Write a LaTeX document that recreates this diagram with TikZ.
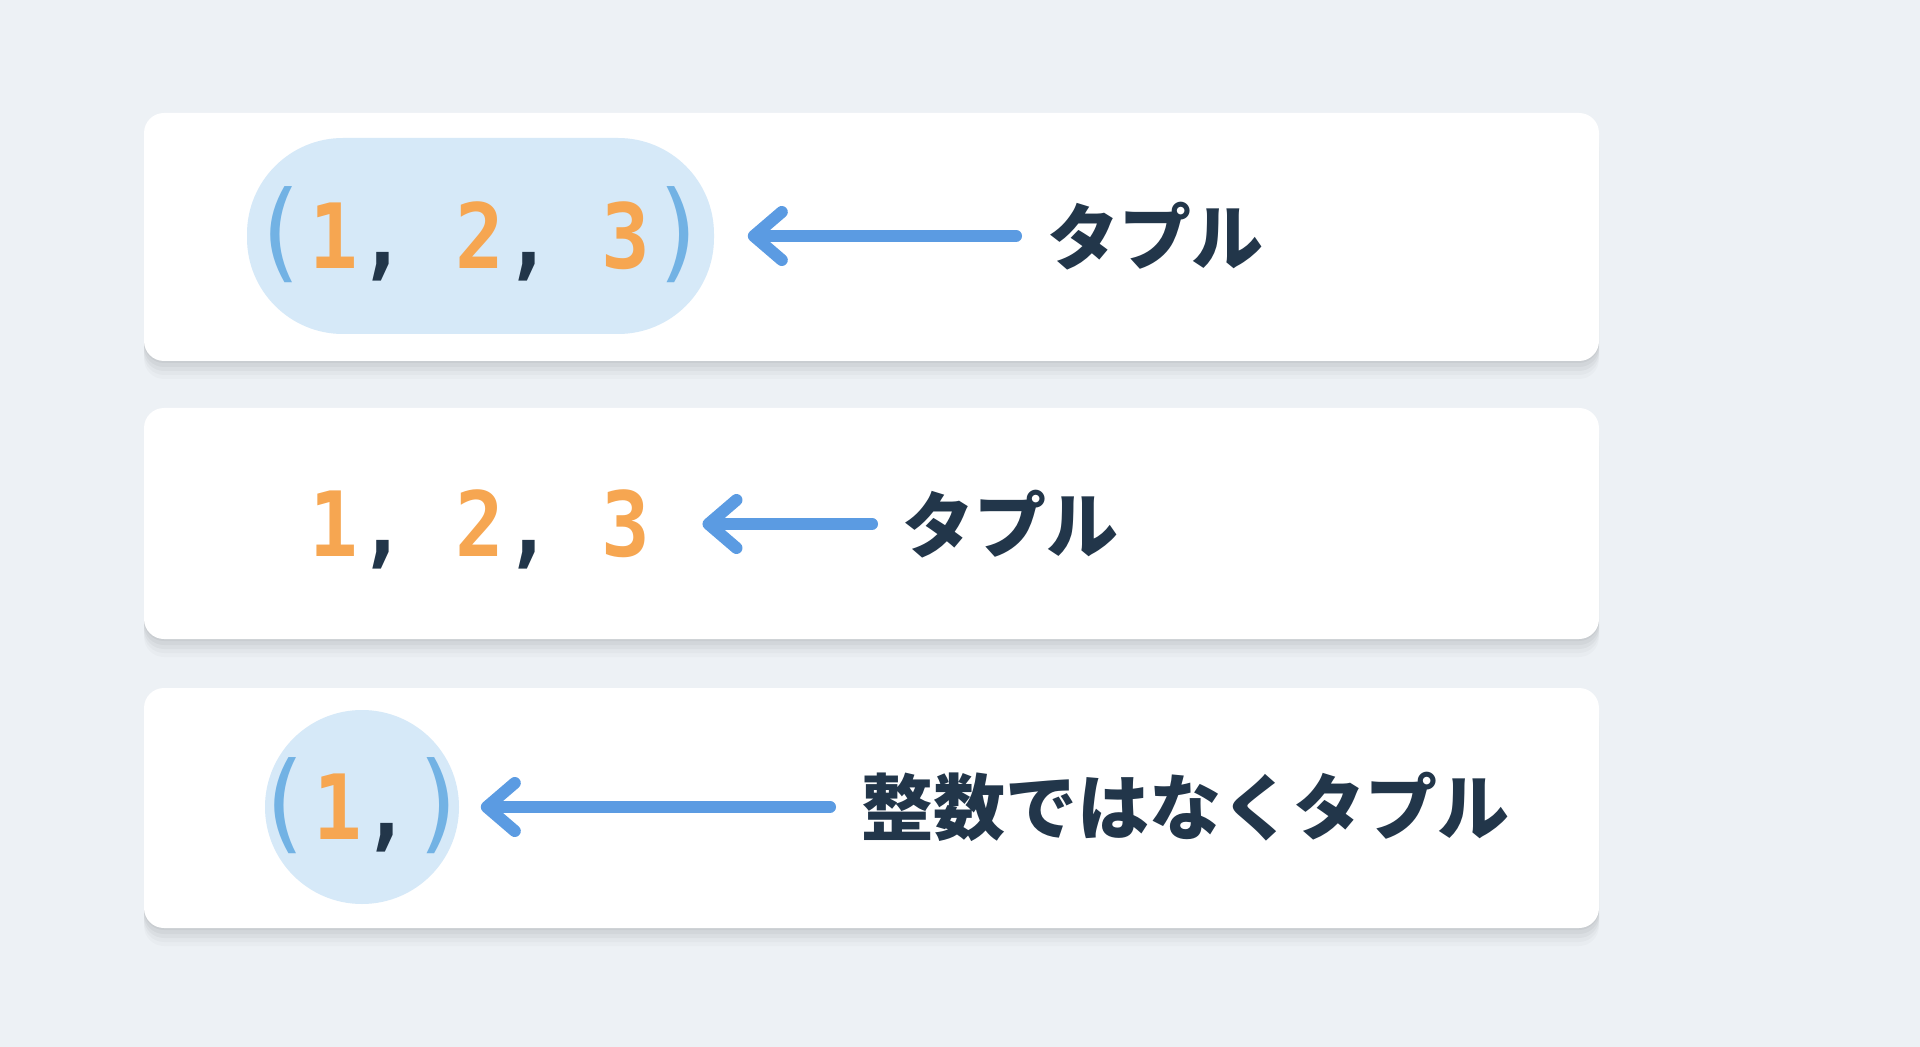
\documentclass[tikz,border=0pt]{standalone}
\usepackage{fontspec}
\usetikzlibrary{arrows.meta,shadows}
\newfontfamily\jpfont{Noto Sans CJK JP}[BoldFont={Noto Sans CJK JP Black}]
\newfontfamily\numfont{DejaVu Sans Mono}[FakeStretch=0.9]
\definecolor{bgcol}{HTML}{EDF1F5}
\definecolor{pillcol}{HTML}{D6E9F8}
\definecolor{arrowcol}{HTML}{5B9BE2}
\definecolor{digitcol}{HTML}{F6A651}
\definecolor{navycol}{HTML}{22364A}
\definecolor{parencol}{HTML}{72B2E4}
\newcommand{\tpar}[1]{{\fontsize{54}{54}\selectfont\mdseries\color{parencol}#1}}
\newcommand{\tcomma}{{\color{navycol},}}
\begin{document}
\begin{tikzpicture}[x=0.5pt, y=-0.5pt, thick]
	\tikzstyle{card}=[rectangle, rounded corners=10pt, fill=white, minimum width=727.5pt, inner sep=0pt,
		drop shadow={shadow xshift=0pt, shadow yshift=-9pt, opacity=0.02, fill=black},
		drop shadow={shadow xshift=0pt, shadow yshift=-7pt, opacity=0.025, fill=black},
		drop shadow={shadow xshift=0pt, shadow yshift=-5pt, opacity=0.03, fill=black},
		drop shadow={shadow xshift=0pt, shadow yshift=-3pt, opacity=0.035, fill=black},
		drop shadow={shadow xshift=0pt, shadow yshift=-1pt, opacity=0.04, fill=black}]
	\tikzstyle{bubble}=[fill=pillcol, inner sep=0pt]
	\tikzstyle{numtext}=[font=\numfont\bfseries\fontsize{45}{45}\selectfont, text=digitcol, inner sep=0pt, text height=32.8pt, text depth=0pt]
	\tikzstyle{jptext}=[font=\jpfont\bfseries\fontsize{36}{36}\selectfont, text=navycol, inner sep=0pt, anchor=west]
	\tikzstyle{pointer}=[-{Straight Barb[length=14pt, width=24pt, round]}, line width=6pt, line cap=round, arrowcol]

	\useasboundingbox (0,0) rectangle (1920,1047);
	\fill[bgcol] (0,0) rectangle (1920,1047);

	% cards
	\node[card, minimum height=124pt] (Card-1) at (871.5,237) {};
	\node[card, minimum height=115.5pt] (Card-2) at (871.5,523.5) {};
	\node[card, minimum height=120pt] (Card-3) at (871.5,808) {};

	% first row
	\node[bubble, rectangle, rounded corners=48pt, minimum width=233.5pt, minimum height=98pt] (Bubble-1) at (480.5,236) {};
	\node[numtext] (Tuple-1) at (480,236) {\tpar{(}1\tcomma{} 2\tcomma{} 3\tpar{)}};
	\node[jptext] (Label-1) at (1047,236) {タプル};
	\draw[pointer, shorten <=15.5pt, shorten >=16.5pt] (Label-1.west) -- (Bubble-1.east);

	% second row
	\node[numtext] (Tuple-2) at (480,524) {1\tcomma{} 2\tcomma{} 3};
	\node[jptext] (Label-2) at (902,524) {タプル};
	\draw[pointer, shorten <=15pt, shorten >=25.5pt] (Label-2.west) -- (Tuple-2.east);

	% third row
	\node[bubble, circle, minimum size=97pt] (Bubble-3) at (362,807) {};
	\node[numtext] (Tuple-3) at (362,807) {\tpar{(}1\tcomma\tpar{)}};
	\node[jptext] (Label-3) at (861,807) {整数ではなくタプル};
	\draw[pointer, shorten <=15.5pt, shorten >=10.5pt] (Label-3.west) -- (Bubble-3.east);
\end{tikzpicture}
\end{document}
